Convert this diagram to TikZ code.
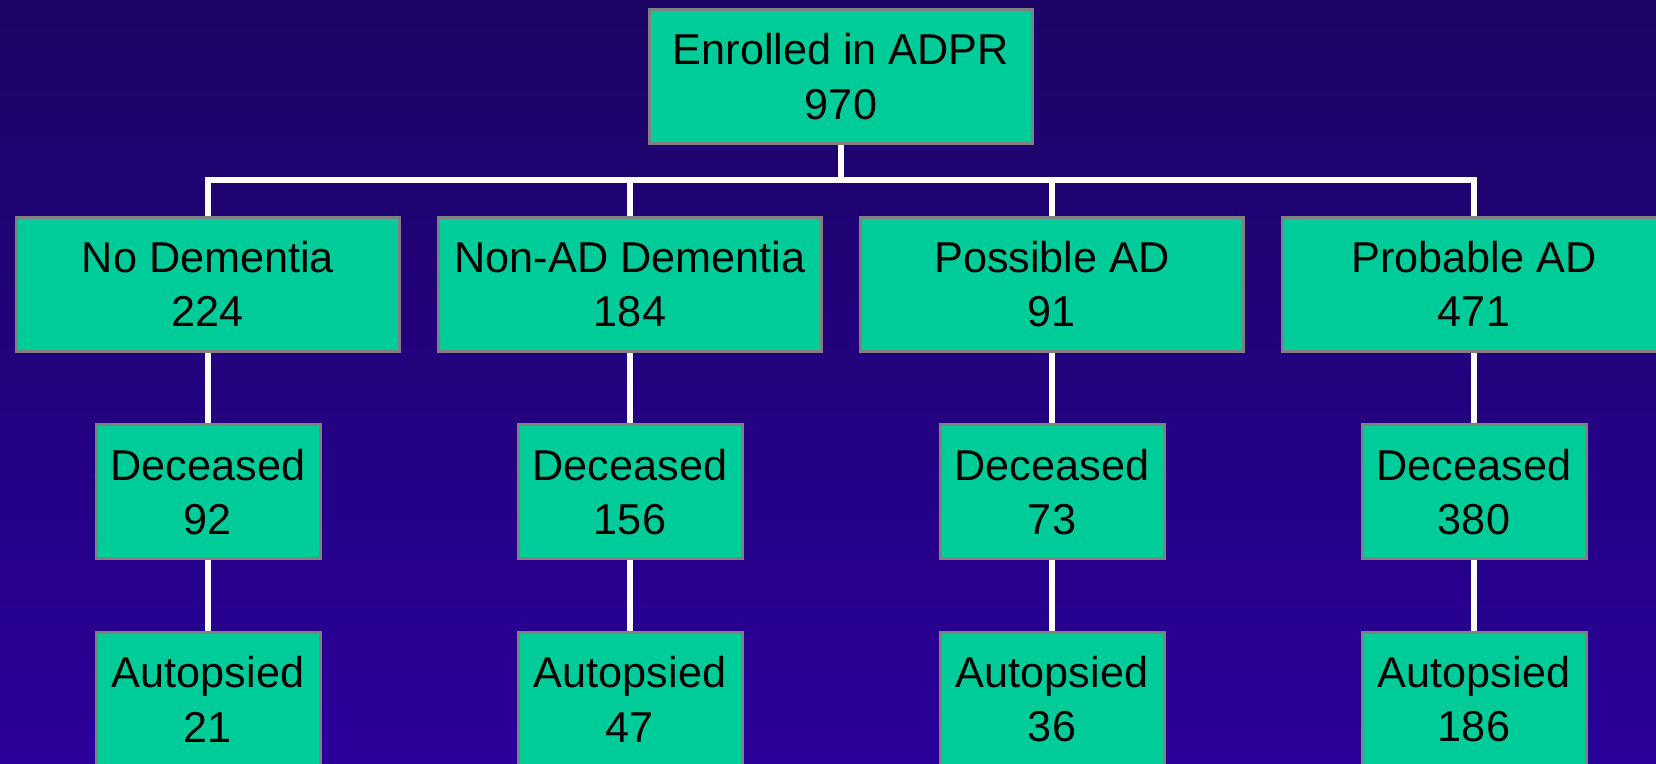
\documentclass[tikz,border=0pt]{standalone}
\usepackage{fontspec}
\setmainfont{Liberation Sans}
\begin{document}
\begin{tikzpicture}[x=0.5pt,y=-0.5pt,
  box/.style={draw=boxedge, line width=1.5pt, fill=boxfill, align=center,
    inner sep=0pt, minimum height=67pt,
    font=\fontsize{21.6pt}{27.15pt}\selectfont},
  wide/.style={box, minimum width=191.5pt},
  narrow/.style={box, minimum width=112pt},
  link/.style={draw=white, line width=3pt}]
\definecolor{boxfill}{HTML}{00CC99}
\definecolor{boxedge}{HTML}{808080}
\definecolor{bgtop}{HTML}{1C0464}
\definecolor{bgbottom}{HTML}{2A009A}
\useasboundingbox (0,0) rectangle (1656,764);
\clip (0,0) rectangle (1656,764);
\shade[top color=bgtop, bottom color=bgbottom] (0,0) rectangle (1656,764);

% root
\node[wide] (root) at (841,76.7) {Enrolled in ADPR\\970};

% diagnosis groups
\node[wide] (g1) at (208,284.2)  {No Dementia\\224};
\node[wide] (g2) at (630,284.2)  {Non-AD Dementia\\184};
\node[wide] (g3) at (1052,284.2) {Possible AD\\91};
\node[wide] (g4) at (1474,284.2) {Probable AD\\471};

% deceased
\node[narrow] (d1) at (208,491.8)  {Deceased\\92};
\node[narrow] (d2) at (630,491.8)  {Deceased\\156};
\node[narrow] (d3) at (1052,491.8) {Deceased\\73};
\node[narrow] (d4) at (1474,491.8) {Deceased\\380};

% autopsied
\node[narrow] (a1) at (208,699.2)  {Autopsied\\21};
\node[narrow] (a2) at (630,699.2)  {Autopsied\\47};
\node[narrow] (a3) at (1052,699.2) {Autopsied\\36};
\node[narrow] (a4) at (1474,699.2) {Autopsied\\186};

% branching bus
\coordinate (bus) at (841,180.3);
\draw[link] (root.south) -- (bus);
\draw[link, line join=miter] (g1.north) -- (g1.north |- bus) -- (g4.north |- bus) -- (g4.north);
\draw[link] (g2.north |- bus) -- (g2.north);
\draw[link] (g3.north |- bus) -- (g3.north);

% column links
\foreach \i in {1,2,3,4}{
  \draw[link] (g\i.south) -- (d\i.north);
  \draw[link] (d\i.south) -- (a\i.north);
}
\end{tikzpicture}
\end{document}
